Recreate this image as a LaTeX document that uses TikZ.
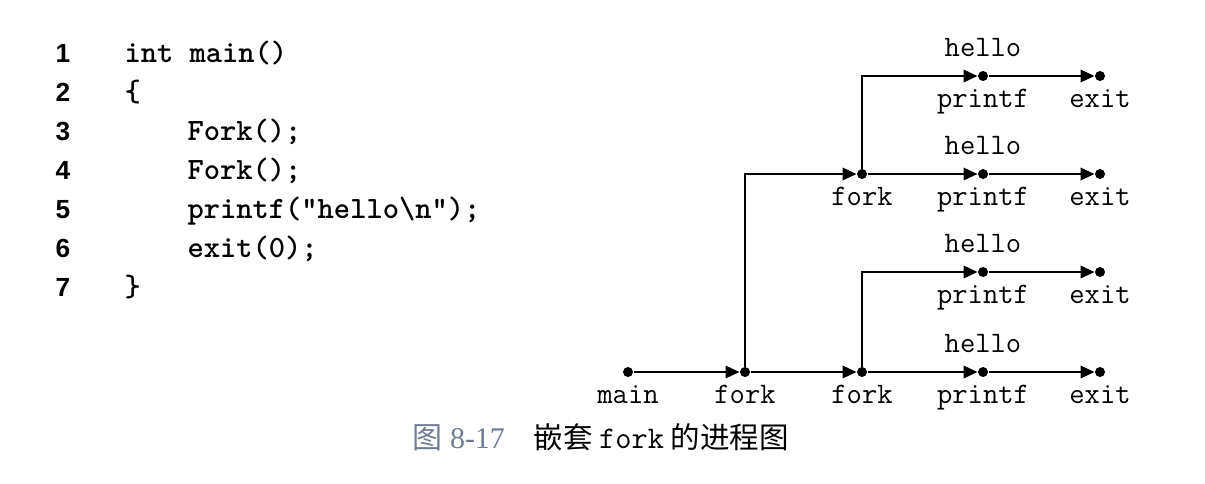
\documentclass[tikz,border=0pt]{standalone}
\usepackage{fontspec}
\setmainfont{Liberation Serif}
\newfontfamily\numfont{Liberation Sans}
\newfontfamily\cjk{Noto Sans CJK SC}
\usetikzlibrary{arrows.meta}

\definecolor{capgray}{RGB}{112,124,146}

\tikzset{
  pt/.style={circle, fill, inner sep=0pt, minimum size=4pt},
  flow/.style={line width=0.8pt, -{Triangle[length=5.6pt,width=5pt]}},
  lbl/.style={font=\ttfamily\fontsize{11.9}{13}\selectfont, inner sep=0pt, anchor=base},
  under/.style={lbl, yshift=-10.4pt},
  over/.style={lbl, yshift=5.6pt},
  code/.style={font=\ttfamily\bfseries\fontsize{12.4}{14}\selectfont, inner sep=0pt, anchor=base west},
  lineno/.style={font=\numfont\bfseries\fontsize{10.5}{12}\selectfont, inner sep=0pt, anchor=base}
}

\begin{document}
\begin{tikzpicture}[x=0.4pt, y=-0.4pt]
  \useasboundingbox (0,0) rectangle (1205,483);

  % program listing
  \foreach \n/\yy in {1/62,2/101,3/140,4/179,5/218,6/257,7/296}
    \node[lineno] (ln\n) at (63,\yy) {\n};
  \node[code] (c1) at (124,62)  {int main()};
  \node[code] (c2) at (124,101) {\{};
  \node[code] (c3) at (187,140) {Fork();};
  \node[code] (c4) at (187,179) {Fork();};
  \node[code] (c5) at (187,218) {printf("hello\textbackslash n");};
  \node[code] (c6) at (187,257) {exit(0);};
  \node[code] (c7) at (124,296) {\}};

  % process graph, bottom row
  \node[pt, label={[under]below:main}]  (main)    at (628,372)  {};
  \node[pt, label={[under]below:fork}]  (forkA)   at (745,372)  {};
  \node[pt, label={[under]below:fork}]  (forkB)   at (862,372)  {};
  \node[pt, label={[under]below:printf}, label={[over]above:hello}] (printfA) at (983,372) {};
  \node[pt, label={[under]below:exit}]  (exitA)   at (1100,372) {};

  % second row
  \node[pt, label={[under]below:printf}, label={[over]above:hello}] (printfB) at (983,272) {};
  \node[pt, label={[under]below:exit}]  (exitB)   at (1100,272) {};

  % third row
  \node[pt, label={[under]below:fork}]  (forkC)   at (862,174)  {};
  \node[pt, label={[under]below:printf}, label={[over]above:hello}] (printfC) at (983,174) {};
  \node[pt, label={[under]below:exit}]  (exitC)   at (1100,174) {};

  % top row
  \node[pt, label={[under]below:printf}, label={[over]above:hello}] (printfD) at (983,76) {};
  \node[pt, label={[under]below:exit}]  (exitD)   at (1100,76)  {};

  \draw[flow] (main) -- (forkA);
  \draw[flow] (forkA) -- (forkB);
  \draw[flow] (forkB) -- (printfA);
  \draw[flow] (printfA) -- (exitA);
  \draw[flow] (forkB) |- (printfB);
  \draw[flow] (printfB) -- (exitB);
  \draw[flow] (forkA) |- (forkC);
  \draw[flow] (forkC) -- (printfC);
  \draw[flow] (printfC) -- (exitC);
  \draw[flow] (forkC) |- (printfD);
  \draw[flow] (printfD) -- (exitD);

  % caption
  \node[inner sep=0pt, anchor=base west, text=capgray, font=\fontsize{12}{14}\selectfont] (capnum) at (412,448) {{\cjk 图} 8-17};
  \node[inner sep=0pt, anchor=base west, font=\cjk\fontsize{11.8}{14}\selectfont] (captxt) at (533,448) {嵌套 {\ttfamily\fontsize{12.6}{14}\selectfont fork} 的进程图};
\end{tikzpicture}
\end{document}
